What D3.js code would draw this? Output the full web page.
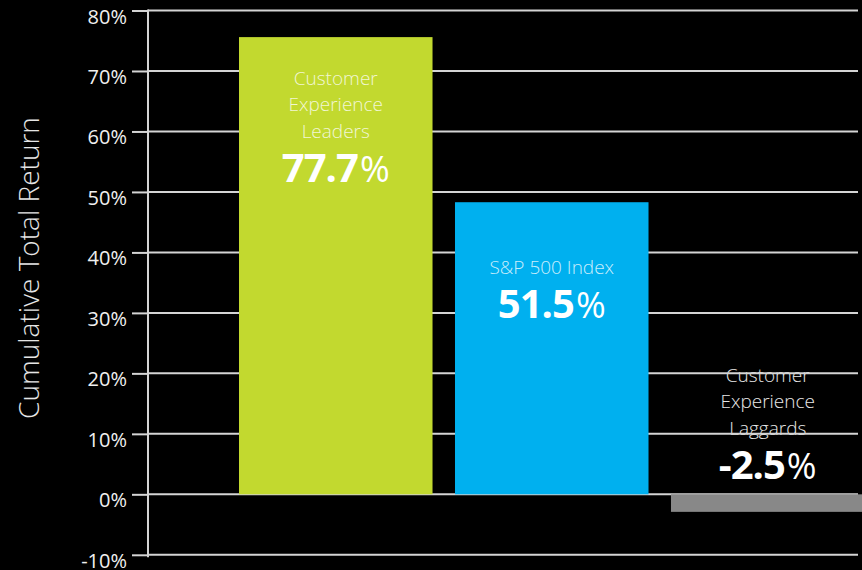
<!DOCTYPE html>
<html><head><meta charset="utf-8">
<script src="https://cdn.jsdelivr.net/npm/d3@7"></script>
<style>html,body{margin:0;padding:0;background:#000;overflow:hidden}svg{display:block}</style>
</head><body>
<svg id="chart" width="862" height="570"></svg>
<script>
const categories = ["Customer Experience Leaders", "S&P 500 Index", "Customer Experience Laggards"];
const barValues = [75.6, 48.3, -2.9];
const labelLines = [["Customer", "Experience", "Leaders"], ["S&P 500 Index"], ["Customer", "Experience", "Laggards"]];
const displayNumbers = ["77.7", "51.5", "-2.5"];
const labelAnchor = [51.6, 29.1, 2.5];
const barColors = ["#c2d92f", "#00b0ef", "#888888"];
const yTicks = [-10, 0, 10, 20, 30, 40, 50, 60, 70, 80];
const yTickLabels = ["-10%", "0%", "10%", "20%", "30%", "40%", "50%", "60%", "70%", "80%"];
const yTitle = "Cumulative Total Return";

const svg = d3.select("#chart");
const font = "'Open Sans', 'DejaVu Sans', sans-serif";
const axisX = 148;

const y = d3.scaleLinear().domain([-10, 80]).range([554.8, 10.5]);
const x = d3.scaleBand().domain(categories).range([239, 864.5]).paddingInner(0.104).paddingOuter(0);

svg.append("rect").attr("width", 862).attr("height", 570).attr("fill", "#000");

// Y title
svg.append("text")
  .attr("transform", `translate(39,268) rotate(-90)`)
  .attr("text-anchor", "middle")
  .attr("font-family", font).attr("font-weight", 300)
  .attr("font-size", 28).attr("fill", "#e6e6e6")
  .text(yTitle);

// Labels placed outside bars (laggards) drawn under gridlines
const labels = svg.append("g");

// Gridlines
svg.append("g").selectAll("line").data(yTicks).join("line")
  .attr("x1", axisX).attr("x2", 858)
  .attr("y1", d => y(d)).attr("y2", d => y(d))
  .attr("stroke", "#d4d4d4").attr("stroke-width", 2);

// Axis
const axis = d3.axisLeft(y).tickValues(yTicks).tickSize(16).tickPadding(5)
  .tickFormat((d, i) => yTickLabels[i]);
const gAxis = svg.append("g").attr("transform", `translate(${axisX},0)`).call(axis);
gAxis.select(".domain").remove();
gAxis.selectAll(".tick line").attr("stroke", "#d4d4d4").attr("stroke-width", 2);
gAxis.selectAll(".tick text")
  .attr("font-family", font).attr("font-size", 20).attr("fill", "#f0f0f0")
  .attr("dy", null).attr("y", 12.5);
svg.append("line").attr("x1", axisX).attr("x2", axisX)
  .attr("y1", y(80) - 1).attr("y2", y(-10) + 2.5)
  .attr("stroke", "#d4d4d4").attr("stroke-width", 2);

// Bars
svg.append("g").selectAll("rect").data(categories).join("rect")
  .attr("x", d => x(d)).attr("width", x.bandwidth())
  .attr("y", (d, i) => y(Math.max(0, barValues[i])))
  .attr("height", (d, i) => Math.abs(y(barValues[i]) - y(0)))
  .attr("fill", (d, i) => barColors[i]);

// Bar labels
const inner = svg.append("g");
categories.forEach((c, i) => {
  const cx = x(c) + x.bandwidth() / 2;
  const base = y(labelAnchor[i]);
  const target = barValues[i] < 0 ? labels : inner;
  const lines = labelLines[i];
  lines.forEach((t, j) => {
    target.append("text")
      .attr("x", cx).attr("y", base - 44.5 - (lines.length - 1 - j) * 26.5)
      .attr("text-anchor", "middle")
      .attr("font-family", font).attr("font-weight", 300).attr("font-size", 19)
      .attr("fill", barValues[i] < 0 ? "#e8e8e8" : "#ffffff")
      .attr("fill-opacity", barValues[i] < 0 ? 1 : 0.8)
      .text(t);
  });
  const num = target.append("text")
    .attr("x", cx).attr("y", base).attr("text-anchor", "middle")
    .attr("font-family", font).attr("font-size", 40).attr("fill", "#fff");
  num.append("tspan").attr("font-weight", 700).attr("letter-spacing", -1).text(displayNumbers[i]);
  num.append("tspan").attr("font-weight", 400).attr("font-size", 36).attr("dx", 2).text("%");
});
</script>
</body></html>
